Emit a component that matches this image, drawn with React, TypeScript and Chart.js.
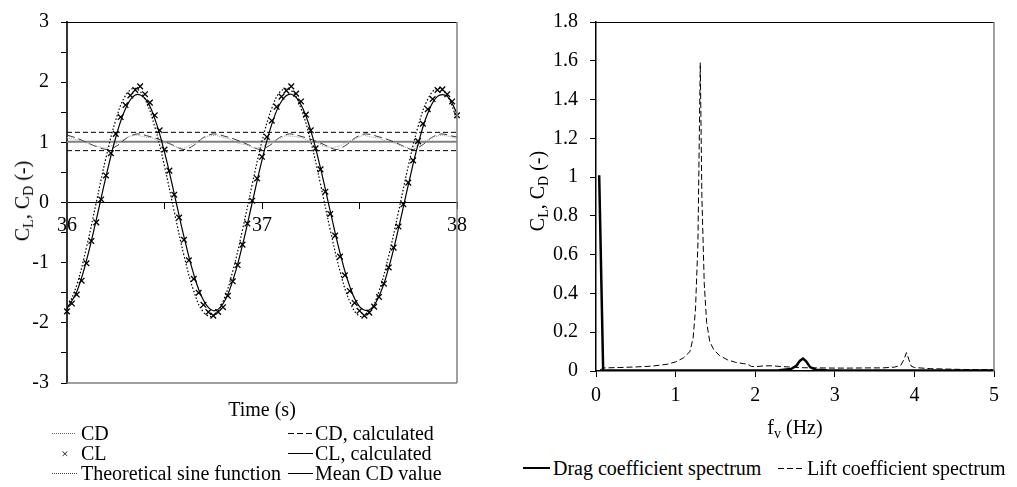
import React, { useEffect, useRef } from 'react';
import { Chart, registerables } from 'chart.js';

Chart.register(...registerables);

const FONT = "'Liberation Serif', Tinos, 'Times New Roman', 'DejaVu Serif', serif";

// ---------- Left chart: time series ----------
const timeCoarse = [
  36.0, 36.05, 36.1, 36.15, 36.2, 36.25, 36.3, 36.35, 36.4, 36.45, 36.5, 36.55, 36.6, 36.65, 36.7, 36.75, 36.8,
  36.85, 36.9, 36.95, 37.0, 37.05, 37.1, 37.15, 37.2, 37.25, 37.3, 37.35, 37.4, 37.45, 37.5, 37.55, 37.6, 37.65,
  37.7, 37.75, 37.8, 37.85, 37.9, 37.95, 38.0,
];
const clCalculated = [
  -1.764, -1.482, -0.962, -0.289, 0.431, 1.081, 1.559, 1.787, 1.729, 1.394, 0.836, 0.145, -0.57, -1.194, -1.626,
  -1.799, -1.683, -1.298, -0.706, 0.0, 0.706, 1.298, 1.683, 1.799, 1.626, 1.194, 0.57, -0.145, -0.836, -1.394,
  -1.729, -1.787, -1.559, -1.081, -0.431, 0.289, 0.962, 1.482, 1.764, 1.764, 1.482,
];
const clTheoretical = [
  -1.777, -1.37, -0.745, 0.0, 0.745, 1.37, 1.777, 1.898, 1.716, 1.26, 0.602, -0.153, -0.883, -1.472, -1.825, -1.886,
  -1.645, -1.141, -0.455, 0.305, 1.016, 1.564, 1.862, 1.862, 1.564, 1.016, 0.305, -0.455, -1.141, -1.645, -1.886,
  -1.825, -1.472, -0.883, -0.153, 0.602, 1.26, 1.716, 1.898, 1.777, 1.37,
];
const clMarkerTime = [
  36.0, 36.025, 36.05, 36.075, 36.1, 36.125, 36.15, 36.175, 36.2, 36.225, 36.25, 36.275, 36.3, 36.325, 36.35, 36.375,
  36.4, 36.425, 36.45, 36.475, 36.5, 36.525, 36.55, 36.575, 36.6, 36.625, 36.65, 36.675, 36.7, 36.725, 36.75, 36.775,
  36.8, 36.825, 36.85, 36.875, 36.9, 36.925, 36.95, 36.975, 37.0, 37.025, 37.05, 37.075, 37.1, 37.125, 37.15, 37.175,
  37.2, 37.225, 37.25, 37.275, 37.3, 37.325, 37.35, 37.375, 37.4, 37.425, 37.45, 37.475, 37.5, 37.525, 37.55, 37.575,
  37.6, 37.625, 37.65, 37.675, 37.7, 37.725, 37.75, 37.775, 37.8, 37.825, 37.85, 37.875, 37.9, 37.925, 37.95, 37.975,
  38.0,
];
const clMarkers = [
  -1.81, -1.68, -1.53, -1.3, -1.01, -0.64, -0.33, 0.05, 0.45, 0.82, 1.14, 1.42, 1.62, 1.78, 1.87, 1.93, 1.8, 1.66,
  1.45, 1.2, 0.88, 0.53, 0.13, -0.25, -0.62, -0.96, -1.27, -1.5, -1.7, -1.82, -1.88, -1.82, -1.74, -1.55, -1.31,
  -1.04, -0.7, -0.35, 0.03, 0.4, 0.76, 1.09, 1.36, 1.59, 1.76, 1.86, 1.93, 1.81, 1.68, 1.46, 1.2, 0.9, 0.55, 0.18,
  -0.19, -0.55, -0.9, -1.21, -1.47, -1.67, -1.8, -1.88, -1.83, -1.73, -1.57, -1.35, -1.08, -0.75, -0.4, -0.03, 0.33,
  0.7, 1.02, 1.31, 1.55, 1.72, 1.87, 1.88, 1.8, 1.68, 1.45,
];
const cdTime = [
  36.0, 36.04, 36.08, 36.12, 36.16, 36.2, 36.24, 36.28, 36.32, 36.36, 36.4, 36.44, 36.48, 36.52, 36.56, 36.6, 36.64,
  36.68, 36.72, 36.76, 36.8, 36.84, 36.88, 36.92, 36.96, 37.0, 37.04, 37.08, 37.12, 37.16, 37.2, 37.24, 37.28, 37.32,
  37.36, 37.4, 37.44, 37.48, 37.52, 37.56, 37.6, 37.64, 37.68, 37.72, 37.76, 37.8, 37.84, 37.88, 37.92, 37.96, 38.0,
];
const cdValues = [
  1.08, 1.05, 1.02, 0.96, 0.93, 0.9, 0.96, 1.03, 1.1, 1.12, 1.09, 1.07, 1.0, 0.98, 0.92, 0.9, 0.97, 1.04, 1.1, 1.12,
  1.08, 1.05, 0.98, 0.96, 0.9, 0.92, 0.99, 1.05, 1.11, 1.1, 1.08, 1.02, 1.0, 0.93, 0.91, 0.94, 1.01, 1.06, 1.12, 1.09,
  1.07, 1.01, 0.99, 0.93, 0.9, 0.95, 1.02, 1.09, 1.12, 1.1, 1.06,
];
const cdCalcTime = [
  36.0, 36.05, 36.1, 36.15, 36.21, 36.26, 36.31, 36.36, 36.42, 36.48, 36.54, 36.6, 36.65, 36.7, 36.75, 36.81, 36.87,
  36.93, 36.99, 37.04, 37.09, 37.14, 37.2, 37.26, 37.32, 37.38, 37.43, 37.48, 37.53, 37.59, 37.65, 37.71, 37.77,
  37.82, 37.87, 37.92, 37.98, 38.0,
];
const cdCalcValues = [
  1.12, 1.07, 1.0, 0.93, 0.88, 0.95, 1.08, 1.14, 1.1, 1.04, 0.96, 0.88, 0.95, 1.08, 1.14, 1.1, 1.04, 0.96, 0.88, 0.95,
  1.08, 1.14, 1.1, 1.04, 0.96, 0.88, 0.95, 1.08, 1.14, 1.1, 1.04, 0.96, 0.88, 0.95, 1.08, 1.14, 1.1, 1.09,
];
const cdCalcLevels = [1.166, 0.862];
const cdMean = [1.01];
const timeRange = [36, 38];

// ---------- Right chart: spectra ----------
const dragFreq = [0.04, 0.09, 0.5, 1.0, 1.5, 2.0, 2.3, 2.45, 2.52, 2.56, 2.6, 2.64, 2.69, 2.76, 2.9, 3.5, 4.0, 4.5, 5.0];
const dragSpectrum = [
  1.01, 0.003, 0.002, 0.002, 0.003, 0.003, 0.004, 0.01, 0.028, 0.052, 0.064, 0.05, 0.02, 0.007, 0.004, 0.003, 0.003,
  0.003, 0.003,
];
const liftFreq = [
  0.05, 0.1, 0.3, 0.5, 0.7, 0.9, 1.0, 1.1, 1.18, 1.22, 1.25, 1.28, 1.31, 1.33, 1.36, 1.39, 1.43, 1.48, 1.55, 1.65,
  1.75, 1.85, 1.9, 1.95, 2.0, 2.1, 2.2, 2.3, 2.45, 2.6, 2.8, 3.0, 3.2, 3.4, 3.6, 3.75, 3.83, 3.87, 3.9, 3.93, 3.96,
  4.0, 4.2, 4.4, 4.6, 4.8, 5.0,
];
const liftSpectrum = [
  0.006, 0.016, 0.018, 0.021, 0.025, 0.035, 0.047, 0.068, 0.1, 0.17, 0.32, 0.65, 1.59, 0.9, 0.45, 0.25, 0.15, 0.11,
  0.08, 0.058, 0.045, 0.038, 0.036, 0.024, 0.022, 0.026, 0.027, 0.024, 0.02, 0.017, 0.016, 0.015, 0.015, 0.016,
  0.016, 0.02, 0.03, 0.06, 0.095, 0.06, 0.025, 0.018, 0.012, 0.01, 0.008, 0.007, 0.007,
];

const pts = (xs: number[], ys: number[]) => xs.map((x, i) => ({ x, y: ys[i] }));
const level = (v: number) => timeRange.map((x) => ({ x, y: v }));

const tickFont = { family: FONT, size: 20, lineHeight: 1 };

const framePlugin = (withBottom: boolean) => ({
  id: 'frame' + (withBottom ? 'B' : 'A'),
  afterDatasetsDraw(chart: any) {
    const { ctx, chartArea } = chart;
    const { left, right, top, bottom } = chartArea;
    ctx.save();
    ctx.lineWidth = 1;
    ctx.strokeStyle = '#000';
    ctx.beginPath();
    ctx.moveTo(left - 6, Math.round(top) + 0.5);
    ctx.lineTo(right, Math.round(top) + 0.5);
    ctx.stroke();
    ctx.strokeStyle = '#808080';
    ctx.lineWidth = 1.5;
    ctx.beginPath();
    ctx.moveTo(right, top);
    ctx.lineTo(right, bottom);
    ctx.stroke();
    if (withBottom) {
      ctx.beginPath();
      ctx.moveTo(left, bottom);
      ctx.lineTo(right, bottom);
      ctx.stroke();
    }
    ctx.restore();
  },
});

const Txt = ({ left, cy, size = 20, children }: any) => (
  <div
    style={{
      position: 'absolute',
      left,
      top: cy,
      transform: 'translateY(-50%)',
      fontFamily: FONT,
      fontSize: size,
      lineHeight: 1,
      whiteSpace: 'nowrap',
      color: '#000',
    }}
  >
    {children}
  </div>
);

const CTxt = ({ cx, cy, size = 20, rotate = false, children }: any) => (
  <div
    style={{
      position: 'absolute',
      left: cx,
      top: cy,
      transform: `translate(-50%, -50%)${rotate ? ' rotate(-90deg)' : ''}`,
      fontFamily: FONT,
      fontSize: size,
      lineHeight: 1,
      whiteSpace: 'nowrap',
      color: '#000',
    }}
  >
    {children}
  </div>
);

const Sub = ({ children }: any) => (
  <span style={{ fontSize: '0.7em', position: 'relative', top: '0.3em' }}>{children}</span>
);

const Sample = ({ x1, x2, cy, kind, h = 1, color = '#000' }: any) => {
  let background = color;
  if (kind === 'dotted') background = `repeating-linear-gradient(to right, ${color} 0 1px, transparent 1px 2px)`;
  if (kind === 'dashed') background = `repeating-linear-gradient(to right, ${color} 0 6px, transparent 6px 9px)`;
  return (
    <div style={{ position: 'absolute', left: x1, top: cy - h / 2, width: x2 - x1, height: h, background }} />
  );
};

export default function App() {
  const leftRef = useRef<HTMLCanvasElement>(null);
  const rightRef = useRef<HTMLCanvasElement>(null);

  useEffect(() => {
    const leftChart = new Chart(leftRef.current as HTMLCanvasElement, {
      type: 'scatter',
      data: {
        datasets: [
          {
            label: 'CL',
            data: pts(clMarkerTime, clMarkers),
            showLine: false,
            pointStyle: 'crossRot',
            pointRadius: 4,
            borderColor: '#000',
            backgroundColor: '#000',
            pointBorderWidth: 1.3,
            clip: 6,
          } as any,
          {
            label: 'CL, calculated',
            data: pts(timeCoarse, clCalculated),
            showLine: true,
            pointRadius: 0,
            borderColor: '#000',
            borderWidth: 1.2,
            tension: 0.4,
          },
          {
            label: 'Theoretical sine function',
            data: pts(timeCoarse, clTheoretical),
            showLine: true,
            pointRadius: 0,
            borderColor: '#000',
            borderWidth: 1.2,
            borderDash: [1.5, 2],
            tension: 0.4,
          },
          {
            label: 'CD',
            data: pts(cdTime, cdValues),
            showLine: true,
            pointRadius: 0,
            borderColor: '#9a9a9a',
            borderWidth: 1,
            borderDash: [1, 1],
            tension: 0,
          },
          {
            label: 'CD oscillation',
            data: pts(cdCalcTime, cdCalcValues),
            showLine: true,
            pointRadius: 0,
            borderColor: '#333',
            borderWidth: 1,
            borderDash: [8, 4],
            tension: 0.3,
          },
          {
            label: 'CD, calculated',
            data: level(cdCalcLevels[0]),
            showLine: true,
            pointRadius: 0,
            borderColor: '#000',
            borderWidth: 1,
            borderDash: [5, 3],
          },
          {
            label: 'CD, calculated (min)',
            data: level(cdCalcLevels[1]),
            showLine: true,
            pointRadius: 0,
            borderColor: '#000',
            borderWidth: 1,
            borderDash: [5, 3],
          },
          {
            label: 'Mean CD value',
            data: level(cdMean[0]),
            showLine: true,
            pointRadius: 0,
            borderColor: '#808080',
            borderWidth: 2,
          },
        ],
      },
      options: {
        animation: false,
        responsive: false,
        layout: { padding: { top: 20, right: 23, bottom: 3, left: 0 } },
        plugins: { legend: { display: false }, tooltip: { enabled: false } },
        scales: {
          x: {
            type: 'linear',
            position: { y: 0 } as any,
            min: 36,
            max: 38,
            ticks: {
              stepSize: 0.5,
              autoSkip: false,
              maxRotation: 0,
              padding: 7,
              color: '#000',
              font: tickFont,
              callback: (v: any) => (Number.isInteger(v) ? String(v) : ''),
            },
            grid: { drawOnChartArea: false, drawTicks: true, tickLength: 6, color: '#000' },
            border: { color: '#000', width: 1 },
          },
          y: {
            type: 'linear',
            min: -3,
            max: 3,
            ticks: {
              stepSize: 0.5,
              autoSkip: false,
              padding: 12,
              color: '#000',
              font: tickFont,
              callback: (v: any) => (Number.isInteger(v) ? String(v) : ''),
            },
            grid: { drawOnChartArea: false, drawTicks: true, tickLength: 6, color: '#000' },
            border: { color: '#333', width: 2 },
            afterFit: (s: any) => {
              s.width = 67;
            },
          },
        },
      },
      plugins: [framePlugin(true)],
    });

    const rightChart = new Chart(rightRef.current as HTMLCanvasElement, {
      type: 'scatter',
      data: {
        datasets: [
          {
            label: 'Drag coefficient spectrum',
            data: pts(dragFreq, dragSpectrum),
            showLine: true,
            pointRadius: 0,
            borderColor: '#000',
            borderWidth: 2.5,
            tension: 0,
          },
          {
            label: 'Lift coefficient spectrum',
            data: pts(liftFreq, liftSpectrum),
            showLine: true,
            pointRadius: 0,
            borderColor: '#000',
            borderWidth: 1,
            borderDash: [6, 3],
            tension: 0,
          },
        ],
      },
      options: {
        animation: false,
        responsive: false,
        layout: { padding: { top: 11, right: 23, bottom: 0, left: 0 } },
        plugins: { legend: { display: false }, tooltip: { enabled: false } },
        scales: {
          x: {
            type: 'linear',
            position: 'bottom',
            min: 0,
            max: 5,
            ticks: { stepSize: 1, padding: 9, maxRotation: 0, color: '#000', font: tickFont },
            grid: { drawOnChartArea: false, drawTicks: true, tickLength: 6, color: '#000' },
            border: { color: '#000', width: 1.5 },
            afterFit: (s: any) => {
              s.height = 49;
            },
          },
          y: {
            type: 'linear',
            min: 0,
            max: 1.8,
            ticks: {
              stepSize: 0.2,
              padding: 12,
              color: '#000',
              font: tickFont,
              callback: (v: any) => String(Number(Number(v).toFixed(1))),
            },
            grid: { drawOnChartArea: false, drawTicks: true, tickLength: 6, color: '#000' },
            border: { color: '#000', width: 1.5 },
            afterFit: (s: any) => {
              s.width = 96;
            },
          },
        },
      },
      plugins: [framePlugin(false)],
    });

    return () => {
      leftChart.destroy();
      rightChart.destroy();
    };
  }, []);

  return (
    <div style={{ position: 'absolute', left: 0, top: 0, width: 1017, height: 487, background: '#fff', overflow: 'hidden' }}>
      <canvas ref={leftRef} width={480} height={405} style={{ position: 'absolute', left: 0, top: 0, width: 480, height: 405 }} />
      <canvas ref={rightRef} width={517} height={420} style={{ position: 'absolute', left: 500, top: 0, width: 517, height: 420 }} />

      {/* Left chart titles */}
      <CTxt cx={22} cy={201} rotate>
        C<Sub>L</Sub>, C<Sub>D</Sub> (-)
      </CTxt>
      <CTxt cx={262} cy={409}>Time (s)</CTxt>

      {/* Left legend */}
      <Sample x1={52} x2={76} cy={433} kind="dotted" color="#666" />
      <Txt left={81} cy={433}>CD</Txt>
      <Sample x1={288} x2={313} cy={433} kind="dashed" />
      <Txt left={315} cy={433}>CD, calculated</Txt>

      <CTxt cx={65} cy={453} size={13}>×</CTxt>
      <Txt left={81} cy={453}>CL</Txt>
      <Sample x1={288} x2={313} cy={453} kind="solid" />
      <Txt left={315} cy={453}>CL, calculated</Txt>

      <Sample x1={52} x2={78} cy={473} kind="dotted" color="#444" />
      <Txt left={81} cy={473}>Theoretical sine function</Txt>
      <Sample x1={288} x2={313} cy={473} kind="solid" />
      <Txt left={315} cy={473}>Mean CD value</Txt>

      {/* Right chart titles */}
      <CTxt cx={537} cy={191} rotate>
        C<Sub>L</Sub>, C<Sub>D</Sub> (-)
      </CTxt>
      <CTxt cx={795} cy={427}>
        f<Sub>v</Sub> (Hz)
      </CTxt>

      {/* Right legend */}
      <Sample x1={523} x2={550} cy={468} kind="solid" h={2.5} />
      <Txt left={553} cy={468}>Drag coefficient spectrum</Txt>
      <Sample x1={778} x2={805} cy={468} kind="dashed" />
      <Txt left={807} cy={468}>Lift coefficient spectrum</Txt>
    </div>
  );
}
